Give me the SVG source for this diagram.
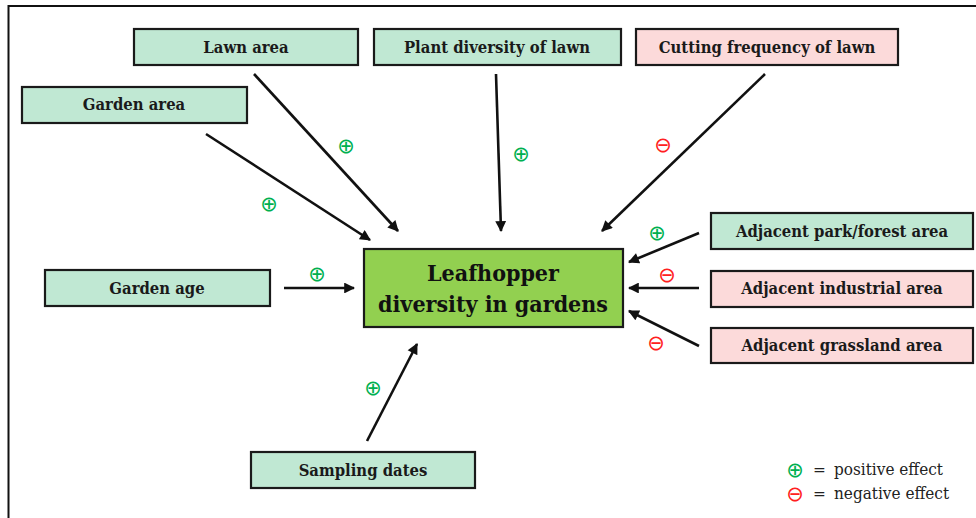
<svg xmlns="http://www.w3.org/2000/svg" width="976" height="518" viewBox="0 0 976 518" font-family="DejaVu Serif Condensed, DejaVu Serif, serif">
<defs>
<style>
.g rect{fill:#C0E8D3;stroke:#1a1a1a;stroke-width:2.2}
.r rect{fill:#FCDADA;stroke:#1a1a1a;stroke-width:2.2}
.m rect{fill:#92D050;stroke:#1a1a1a;stroke-width:2.2}
.lbl{font-weight:bold;font-size:16.5px;fill:#1a1a1a;text-anchor:middle}
.main{font-weight:bold;font-size:23px;fill:#111;text-anchor:middle}
.pos{font-size:21px;fill:#00B050;text-anchor:middle}
.neg{font-size:21px;fill:#FF2020;text-anchor:middle}
.leg{font-size:17px;fill:#222}
#connectors line{stroke:#111;stroke-width:2.6;marker-end:url(#ah)}
</style>
<marker id="ah" viewBox="0 0 10 10" refX="9" refY="5" markerWidth="4.5" markerHeight="4.2" orient="auto" markerUnits="strokeWidth">
<path d="M0,0 L10,5 L0,10 z" fill="#111"/>
</marker>
</defs>
<rect width="976" height="518" fill="#fff"/>
<path d="M976,6 H8.5 V518" fill="none" stroke="#111" stroke-width="2"/>

<g id="lawn-area" class="g"><rect x="134" y="29" width="224" height="36"/><text class="lbl" x="246" y="53">Lawn area</text></g>
<g id="plant-diversity" class="g"><rect x="374" y="29" width="247" height="36"/><text class="lbl" x="497" y="53">Plant diversity of lawn</text></g>
<g id="cutting-frequency" class="r"><rect x="636" y="29" width="262" height="36"/><text class="lbl" x="767" y="53">Cutting frequency of lawn</text></g>
<g id="garden-area" class="g"><rect x="22" y="87" width="225" height="36"/><text class="lbl" x="134" y="110">Garden area</text></g>
<g id="garden-age" class="g"><rect x="45" y="270" width="225" height="36"/><text class="lbl" x="157" y="294">Garden age</text></g>
<g id="sampling-dates" class="g"><rect x="251" y="452" width="224" height="36"/><text class="lbl" x="363" y="476">Sampling dates</text></g>
<g id="park-forest" class="g"><rect x="711" y="213" width="262" height="36"/><text class="lbl" x="842" y="237">Adjacent park/forest area</text></g>
<g id="industrial" class="r"><rect x="711" y="271" width="262" height="36"/><text class="lbl" x="842" y="294">Adjacent industrial area</text></g>
<g id="grassland" class="r"><rect x="711" y="328" width="262" height="35"/><text class="lbl" x="842" y="351">Adjacent grassland area</text></g>
<g id="leafhopper" class="m"><rect x="364" y="249" width="259" height="78"/><text class="main" x="493" y="281">Leafhopper</text><text class="main" x="493" y="312">diversity in gardens</text></g>

<g id="connectors">
<line x1="254" y1="74" x2="398" y2="231"/>
<line x1="206" y1="134" x2="370" y2="240"/>
<line x1="496" y1="74" x2="501" y2="231"/>
<line x1="765" y1="74" x2="602" y2="231"/>
<line x1="284" y1="288" x2="354" y2="288"/>
<line x1="367" y1="441" x2="417" y2="344"/>
<line x1="699" y1="233" x2="629" y2="262"/>
<line x1="699" y1="288" x2="629" y2="288"/>
<line x1="699" y1="346" x2="629" y2="311"/>
</g>

<g id="effect-signs" font-family="DejaVu Sans, sans-serif">
<text class="pos" x="346" y="153">⊕</text>
<text class="pos" x="269" y="211">⊕</text>
<text class="pos" x="521" y="161">⊕</text>
<text class="neg" x="663" y="152">⊖</text>
<text class="pos" x="657" y="240">⊕</text>
<text class="neg" x="667" y="282">⊖</text>
<text class="neg" x="656" y="350">⊖</text>
<text class="pos" x="317" y="281">⊕</text>
<text class="pos" x="373" y="395">⊕</text>
</g>

<g id="legend">
<text class="pos" x="795" y="477" font-family="DejaVu Sans, sans-serif">⊕</text>
<text class="leg" x="813" y="475">=</text>
<text class="leg" x="834" y="475">positive effect</text>
<text class="neg" x="795" y="501" font-family="DejaVu Sans, sans-serif">⊖</text>
<text class="leg" x="813" y="499">=</text>
<text class="leg" x="834" y="499">negative effect</text>
</g>
</svg>
